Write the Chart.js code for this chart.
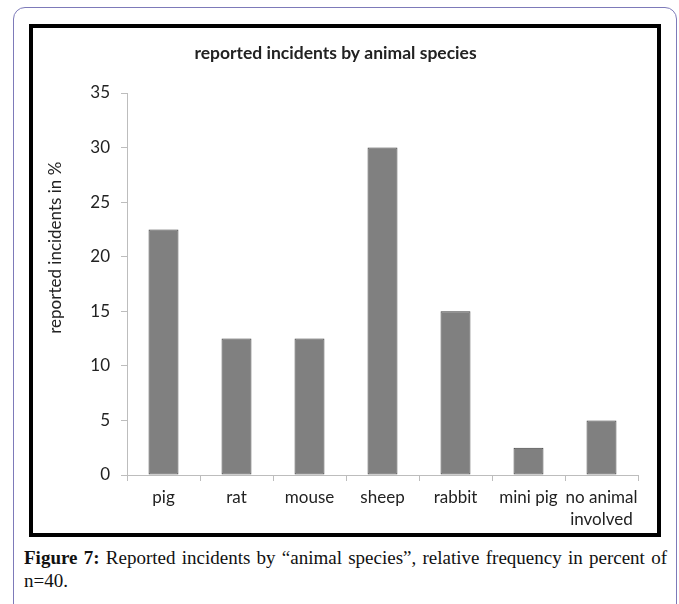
<!DOCTYPE html>
<html lang="en">
<head>
    <meta charset="UTF-8">
    <meta name="viewport" content="width=device-width, initial-scale=1.0">
    <title>Figure 7</title>

    <script src="https://cdn.jsdelivr.net/npm/chart.js@4.4.0/dist/chart.umd.min.js"></script>
    <script>
        // n=40 incidents, share per species in %
        const species = ['pig', 'rat', 'mouse', 'sheep', 'rabbit', 'mini pig', ['no animal', 'involved']]
        const percent = [22.5, 12.5, 12.5, 30, 15, 2.5, 5]
        const yTicks = [0, 5, 10, 15, 20, 25, 30, 35]
        const yTitle = 'reported incidents in %'

        // excel puts the axis title a bit above the middle, so draw it by hand
        const yTitlePlugin = {
            id: 'yTitle',
            afterDraw(chart) {
                const c = chart.ctx
                const area = chart.chartArea
                c.save()
                c.translate(23, area.top + area.height * 0.405)
                c.rotate(-Math.PI / 2)
                c.fillStyle = '#222'
                c.font = '17px Lato'
                c.textAlign = 'center'
                c.textBaseline = 'middle'
                c.fillText(yTitle, 0, 0)
                c.restore()
            }
        }

        function makeChart() {
            const ctx = document.getElementById('chart').getContext('2d')
            const axisGrey = '#bdbdbd'
            const textCol = '#222'

            const chart = new Chart(ctx, {
                type: 'bar',
                data: {
                    labels: species,
                    datasets: [{
                        label: 'reported incidents',
                        data: percent,
                        backgroundColor: '#808080',
                        borderColor: '#3f3f3f',
                        borderWidth: 1,
                        borderSkipped: false,
                        barPercentage: 0.41,
                        categoryPercentage: 1
                    }]
                },
                options: {
                    responsive: false,
                    animation: false,
                    layout: {
                        padding: { left: 0, right: 19, top: 0, bottom: 0 }
                    },
                    plugins: {
                        legend: { display: false },
                        tooltip: { enabled: false },
                        title: {
                            display: true,
                            text: 'reported incidents by animal species',
                            color: textCol,
                            font: { family: 'Lato', size: 17.5, weight: 'bold', lineHeight: 1.2 },
                            padding: { top: 15, bottom: 29 }
                        }
                    },
                    scales: {
                        x: {
                            grid: {
                                display: true,
                                drawOnChartArea: false,
                                color: axisGrey,
                                tickLength: 6,
                                offset: true
                            },
                            border: { color: axisGrey, width: 1 },
                            ticks: {
                                color: textCol,
                                padding: 5,
                                maxRotation: 0,
                                autoSkip: false,
                                font: { family: 'Lato', size: 17, lineHeight: 1.3 }
                            },
                            afterFit: scale => { scale.height = 58 }
                        },
                        y: {
                            min: 0,
                            max: 35,
                            afterBuildTicks: scale => {
                                scale.ticks = yTicks.map(v => ({ value: v }))
                            },
                            grid: {
                                display: true,
                                drawOnChartArea: false,
                                color: axisGrey,
                                tickLength: 6
                            },
                            border: { color: axisGrey, width: 1 },
                            ticks: {
                                color: textCol,
                                padding: 11,
                                font: { family: 'Lato', size: 17 }
                            },
                            afterFit: scale => { scale.width = 94 }
                        }
                    }
                },
                plugins: [yTitlePlugin]
            })
        }
    </script>

    <style>
        * {
            margin: 0;
            padding: 0;
            box-sizing: border-box;
        }

        body {
            width: 679px;
            height: 604px;
            background: #fff;
            overflow: hidden;
            position: relative;
        }

        .frame {
            position: absolute;
            left: 13px;
            top: 7px;
            width: 664px;
            height: 700px;
            border: 1.5px solid #7d7ab9;
            border-radius: 12px;
        }

        .figure-box {
            position: absolute;
            left: 29px;
            top: 24px;
            width: 632px;
            height: 513px;
            border: 4px solid #000;
        }

        .figure-box canvas {
            display: block;
        }

        .caption {
            position: absolute;
            left: 24px;
            top: 546px;
            width: 643px;
            font-family: 'Liberation Serif', 'Times New Roman', serif;
            font-size: 19px;
            line-height: 23px;
            color: #111;
            text-align: justify;
        }
    </style>
</head>
<body onload="makeChart()">
    <div class="frame"></div>
    <div class="figure-box">
        <canvas id="chart" width="624" height="505"></canvas>
    </div>
    <p class="caption"><b>Figure 7:</b> Reported incidents by “animal species”, relative frequency in percent of n=40.</p>
</body>
</html>
